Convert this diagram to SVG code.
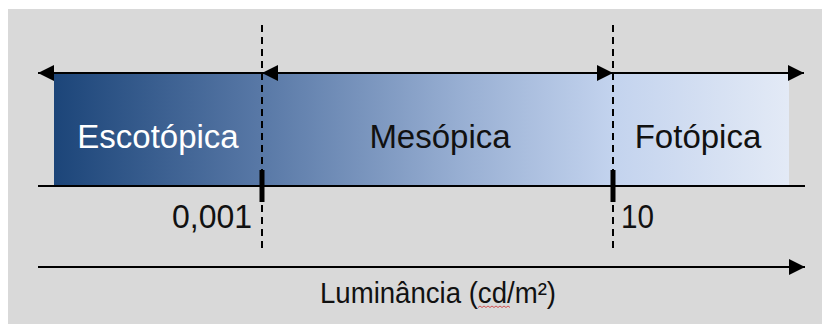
<svg xmlns="http://www.w3.org/2000/svg" width="822" height="324" viewBox="0 0 822 324">
  <defs>
    <linearGradient id="band" x1="0" y1="0" x2="1" y2="0">
      <stop offset="0" stop-color="#1c4579"/>
      <stop offset="0.28" stop-color="#5878a6"/>
      <stop offset="0.55" stop-color="#97aed2"/>
      <stop offset="0.76" stop-color="#c3d3ee"/>
      <stop offset="1" stop-color="#e3eaf6"/>
    </linearGradient>
    <marker id="arrow" viewBox="0 0 16 16" refX="16" refY="8" markerWidth="16" markerHeight="16" markerUnits="userSpaceOnUse" orient="auto-start-reverse">
      <path d="M0,0 L16,8 L0,16 Z" fill="#000"/>
    </marker>
    <style>
      .lbl { font-family: "Liberation Sans", Arial, sans-serif; font-size: 33px; }
      .num { font-family: "Liberation Sans", Arial, sans-serif; font-size: 34px; fill: #111; }
      .axis { stroke: #000; stroke-width: 2; fill: none; }
      .dash { stroke: #000; stroke-width: 2; stroke-dasharray: 7 5; fill: none; }
      .tick { stroke: #000; stroke-width: 5; }
    </style>
  </defs>

  <rect x="0" y="0" width="822" height="324" fill="#ffffff"/>
  <rect x="8" y="9" width="814" height="315" fill="#d9d9d9"/>

  <g id="band-regions">
    <rect x="54" y="73" width="735" height="113" fill="url(#band)"/>
  </g>

  <g id="escotopica">
    <text class="lbl" x="158" y="148" text-anchor="middle" fill="#ffffff">Escotópica</text>
  </g>
  <g id="mesopica">
    <text class="lbl" x="440" y="148" text-anchor="middle" fill="#111111">Mesópica</text>
  </g>
  <g id="fotopica">
    <text class="lbl" x="698" y="148" text-anchor="middle" fill="#111111">Fotópica</text>
  </g>

  <g id="connectors">
    <line class="axis" x1="262" y1="73" x2="38" y2="73" marker-end="url(#arrow)"/>
    <line class="axis" x1="262" y1="73" x2="613" y2="73" marker-start="url(#arrow)" marker-end="url(#arrow)"/>
    <line class="axis" x1="613" y1="73" x2="804" y2="73" marker-end="url(#arrow)"/>
    <line class="axis" x1="38" y1="186" x2="805" y2="186"/>
    <line class="axis" x1="38" y1="267" x2="805" y2="267" marker-end="url(#arrow)"/>
    <line class="dash" x1="262" y1="25" x2="262" y2="249"/>
    <line class="dash" x1="613" y1="25" x2="613" y2="249"/>
    <line class="tick" x1="262" y1="170" x2="262" y2="202"/>
    <line class="tick" x1="613" y1="170" x2="613" y2="202"/>
  </g>

  <g id="labels">
    <text class="num" x="252" y="228" text-anchor="end" textLength="80" lengthAdjust="spacingAndGlyphs">0,001</text>
    <text class="num" x="621" y="228" textLength="33" lengthAdjust="spacingAndGlyphs">10</text>
    <text x="320" y="303" font-family="Liberation Sans, Arial, sans-serif" font-size="29" fill="#111" textLength="236" lengthAdjust="spacingAndGlyphs">Luminância (cd/m²)</text>
    <path d="M478,307.5 l2,-1.5 l2,1.5 l2,-1.5 l2,1.5 l2,-1.5 l2,1.5 l2,-1.5 l2,1.5 l2,-1.5 l2,1.5 l2,-1.5 l2,1.5 l2,-1.5 l2,1.5 l2,-1.5 l2,1.5" fill="none" stroke="#d03030" stroke-width="0.8"/>
  </g>
</svg>
